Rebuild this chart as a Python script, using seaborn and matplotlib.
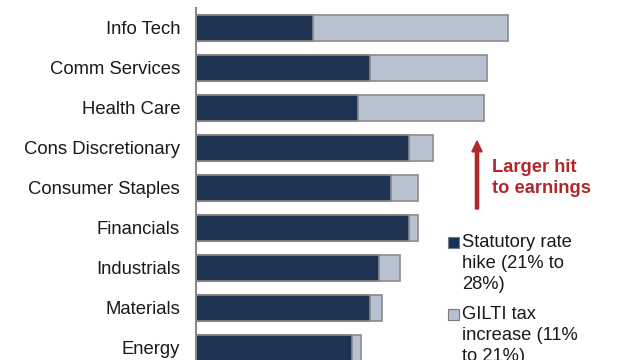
import matplotlib
matplotlib.use("Agg")
import matplotlib.pyplot as plt
import seaborn as sns
import pandas as pd
from matplotlib.patches import Rectangle, FancyArrow

sectors = ["Info Tech", "Comm Services", "Health Care", "Cons Discretionary",
           "Consumer Staples", "Financials", "Industrials", "Materials", "Energy"]
statutory = [3.9, 5.8, 5.4, 7.1, 6.5, 7.1, 6.1, 5.8, 5.2]
gilti = [6.5, 3.9, 4.2, 0.8, 0.9, 0.3, 0.7, 0.4, 0.3]
legend_labels = ["Statutory rate\nhike (21% to\n28%)", "GILTI tax\nincrease (11%\nto 21%)"]
annotation = "Larger hit\nto earnings"

dark = "#14325a"
light = "#b4c0d4"
edge = "#8a8a8a"
red = "#b0282a"

sns.set_theme(style="white")
plt.rcParams["font.family"] = ["Liberation Sans", "DejaVu Sans"]

df = pd.DataFrame({"sector": sectors, "statutory": statutory, "gilti": gilti})
df["total"] = df["statutory"] + df["gilti"]

fig = plt.figure(figsize=(6.4, 3.6), dpi=100)
ax = fig.add_axes([196 / 640, 0, 0.5, 352 / 360])

sns.barplot(data=df, x="total", y="sector", color=light, edgecolor=edge,
            linewidth=1.2, width=0.65, ax=ax, orient="h")
sns.barplot(data=df, x="statutory", y="sector", color=dark, edgecolor=edge,
            linewidth=1.2, width=0.65, ax=ax, orient="h")

# 30 px per unit; axes width = 320 px
ax.set_xlim(0, 320 / 30)
ax.set_ylim(8.3, -0.5)
ax.set_xlabel("")
ax.set_ylabel("")
ax.set_xticks([])
ax.tick_params(axis="y", length=0, pad=11.5, labelsize=13.3, labelcolor="#1a1a1a")
for s in ["top", "right", "bottom"]:
    ax.spines[s].set_visible(False)
ax.spines["left"].set_color("#8a8a8a")
ax.spines["left"].set_linewidth(1.5)

# annotation arrow
fig.patches.append(FancyArrow(
    477 / 640, 1 - 209 / 360, 0, (209 - 141) / 360, width=0.005,
    head_width=0.016, head_length=0.03, length_includes_head=True,
    color=red, transform=fig.transFigure))
fig.text(492 / 640, 1 - 178 / 360, annotation, color=red, fontsize=13.2,
         fontweight="bold", va="center", ha="left", linespacing=1.3)

# legend (manual)
colors = [dark, light]
tops = [234, 306]
for lab, c, t in zip(legend_labels, colors, tops):
    fig.patches.append(Rectangle((448 / 640, 1 - (t + 14) / 360), 11 / 640, 11 / 360,
                                 facecolor=c, edgecolor="#7a7a7a", linewidth=0.8,
                                 transform=fig.transFigure))
    fig.text(462 / 640, 1 - t / 360, lab, fontsize=13.2, va="top", ha="left",
             color="#1a1a1a", linespacing=1.3)

fig.savefig("out.png", dpi=100)
